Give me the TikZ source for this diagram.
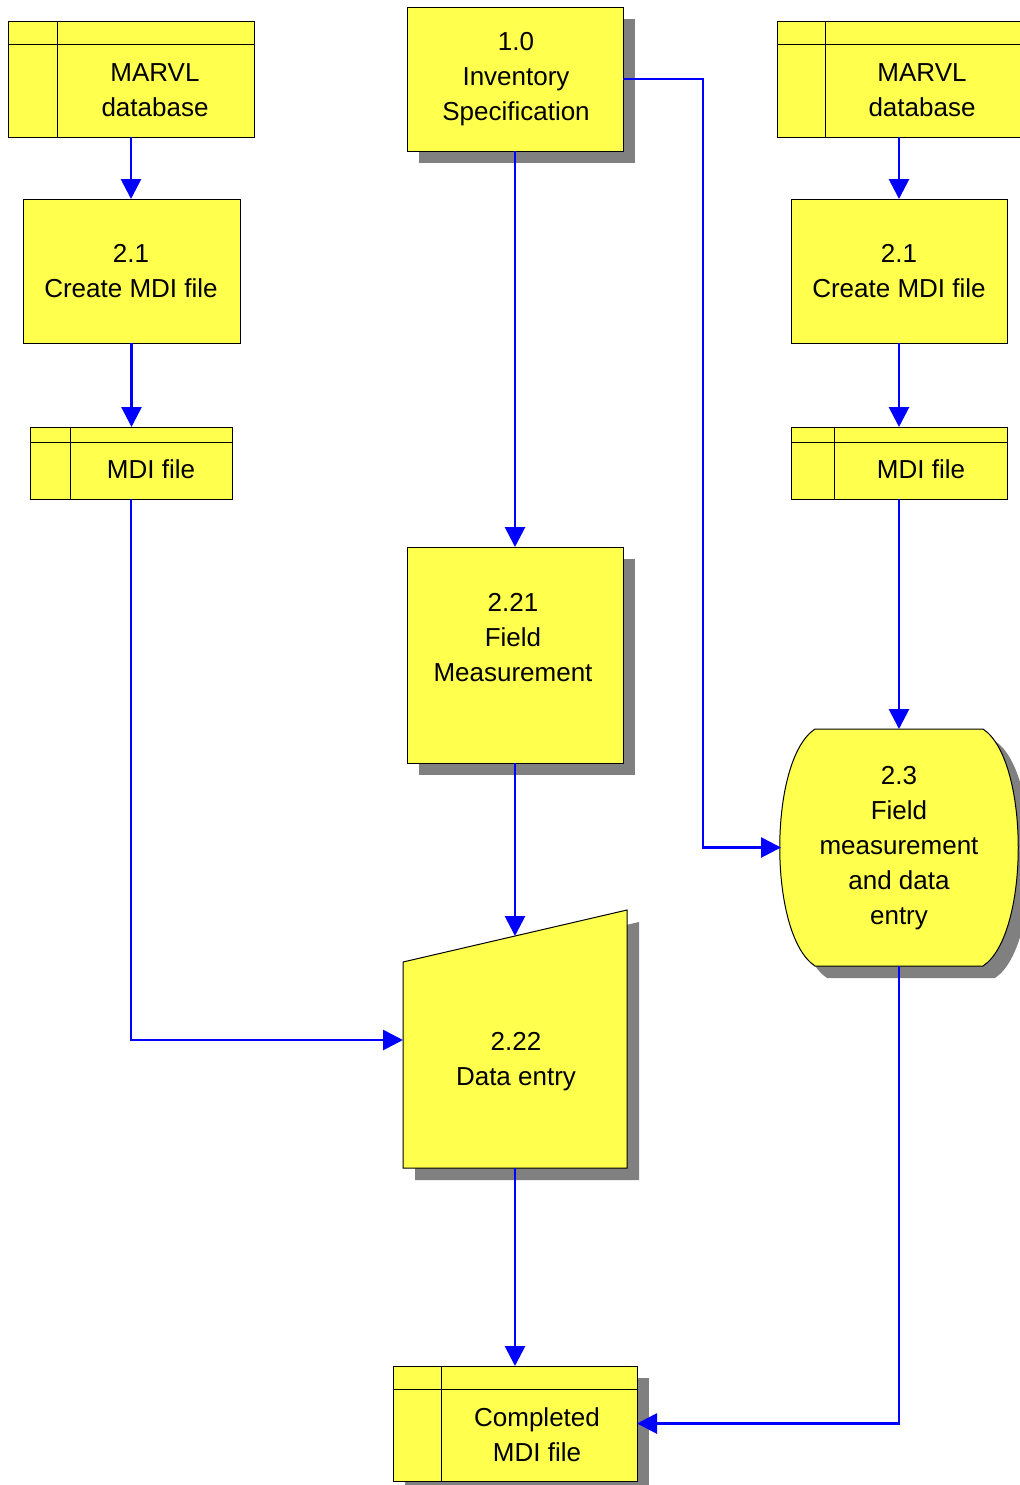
\documentclass[tikz,border=0pt]{standalone}
\usepackage{fontspec}
\setmainfont{Liberation Sans}
\usetikzlibrary{arrows.meta}
\definecolor{boxyellow}{RGB}{255,255,77}
\definecolor{shadowgray}{RGB}{128,128,128}
\definecolor{flowblue}{RGB}{0,0,255}
\begin{document}
\begin{tikzpicture}[x=0.5pt,y=-0.5pt,
  box/.style={draw=black, fill=boxyellow, line width=0.5pt, inner sep=0pt, outer sep=0pt},
  ghost/.style={inner sep=0pt, outer sep=0pt},
  shade/.style={fill=shadowgray, draw=none},
  outline/.style={draw=black, line width=0.5pt},
  shapefill/.style={draw=black, fill=boxyellow, line width=0.5pt},
  txt/.style={font=\fontsize{13}{17.5}\selectfont, align=center, inner sep=0pt},
  flow/.style={draw=flowblue, line width=1.4pt, -{Triangle[length=10pt,width=10pt]}},
]
\useasboundingbox (0,0) rectangle (1019,1485);

% ---- shadows ----
\fill[shade] (419,19) rectangle (635,163);
\fill[shade] (419,559) rectangle (635,775);
\fill[shade] (415,974) -- (639,922) -- (639,1180) -- (415,1180) -- cycle;
\fill[shade] (827,741) -- (995,741) .. controls (1042,772) and (1042,947) .. (995,978)
  -- (827,978) .. controls (780,947) and (780,772) .. (827,741) -- cycle;
\fill[shade] (405,1378) rectangle (649,1493);

% ---- data stores ----
\node[box, minimum width=123pt, minimum height=58pt] (m1) at (131,79) {};
\draw[outline] (8,44) -- (254,44) (57,21) -- (57,137);
\node[txt] at (155,90) {MARVL\\database};

\node[box, minimum width=123pt, minimum height=58pt] (m2) at (900,79) {};
\draw[outline] (777,44) -- (1023,44) (825,21) -- (825,137);
\node[txt] at (922,90) {MARVL\\database};

\node[box, minimum width=101pt, minimum height=36pt] (f1) at (131,463) {};
\draw[outline] (30,442) -- (232,442) (70,427) -- (70,499);
\node[txt] at (151,469) {MDI file};

\node[box, minimum width=108pt, minimum height=36pt] (f2) at (899,463) {};
\draw[outline] (791,442) -- (1007,442) (834,427) -- (834,499);
\node[txt] at (921,469) {MDI file};

\node[box, minimum width=122pt, minimum height=57.5pt] (cm) at (515,1423.5) {};
\draw[outline] (393,1389) -- (637,1389) (441,1366) -- (441,1481);
\node[txt] at (537,1435) {Completed\\MDI file};

% ---- processes ----
\node[box, minimum width=108.5pt, minimum height=72pt] (c1) at (131.5,271) {};
\node[txt] at (131,271) {2.1\\Create MDI file};

\node[box, minimum width=108pt, minimum height=72pt] (c2) at (899,271) {};
\node[txt] at (899,271) {2.1\\Create MDI file};

\node[box, minimum width=108pt, minimum height=72pt] (p10) at (515,79) {};
\node[txt] at (516,79.5) {1.0\\Inventory\\Specification};

\node[box, minimum width=108pt, minimum height=108pt] (p221) at (515,655) {};
\node[txt] at (513,637.5) {2.21\\Field\\Measurement};

% 2.22 manual input shape
\draw[shapefill] (403,962) -- (627,910) -- (627,1168) -- (403,1168) -- cycle;
\node[ghost, minimum width=112pt, minimum height=129pt] (p222) at (515,1039) {};
\coordinate (e22top) at (515,936);
\coordinate (e22left) at (403,1040);
\node[txt] at (516,1061.5) {2.22\\Data entry};

% 2.3 shape
\draw[shapefill] (815,729) -- (983,729) .. controls (1030,760) and (1030,935) .. (983,966)
  -- (815,966) .. controls (768,935) and (768,760) .. (815,729) -- cycle;
\node[ghost, minimum width=118pt, minimum height=118.5pt] (p23) at (899,847.5) {};
\node[txt] at (899,848.5) {2.3\\Field\\measurement\\and data\\entry};

% ---- flows ----
\draw[flow] (m1.south) -- (m1.south |- c1.north);
\draw[flow] (c1.south) -- (c1.south |- f1.north);
\draw[flow] (f1.south) |- (e22left);
\draw[flow] (p10.south) -- (p221.north);
\draw[flow] (p10.east) -- ++(80,0) |- (p23.west);
\draw[flow] (c2.north |- m2.south) -- (c2.north);
\draw[flow] (c2.south) -- (f2.north);
\draw[flow] (f2.south) -- (p23.north);
\draw[flow] (p221.south) -- (e22top);
\draw[flow] (p222.south) -- (cm.north);
\draw[flow] (p23.south) |- (cm.east);
\end{tikzpicture}
\end{document}
